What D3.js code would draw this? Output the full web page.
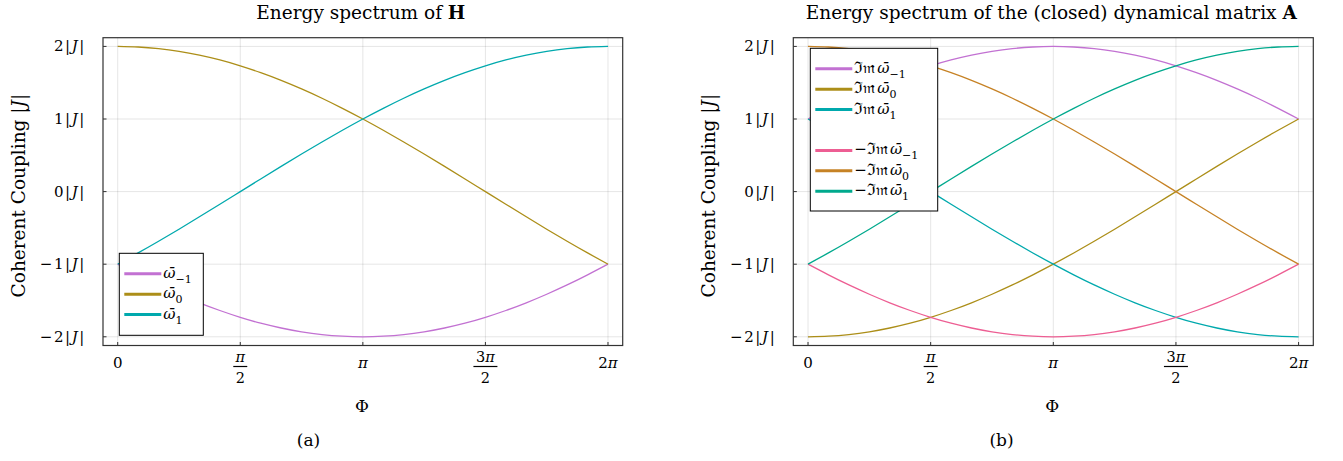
<!DOCTYPE html>
<html>
<head>
<meta charset="utf-8">
<script src="https://cdn.jsdelivr.net/npm/d3@7"></script>
<style>
  body { margin: 0; background: #fff; }
  svg { display: block; }
</style>
</head>
<body>
<svg id="chart" width="1343" height="461"></svg>
<script>
// Phase Φ in units of π
const phiPi = [0, 0.0833, 0.1667, 0.25, 0.3333, 0.4167, 0.5, 0.5833, 0.6667, 0.75, 0.8333, 0.9167,
               1, 1.0833, 1.1667, 1.25, 1.3333, 1.4167, 1.5, 1.5833, 1.6667, 1.75, 1.8333, 1.9167, 2];

// Eigenvalues of H, in units of |J|
const omegaM1 = [-1.000, -1.147, -1.286, -1.414, -1.532, -1.638, -1.732, -1.813, -1.879, -1.932, -1.970, -1.992,
                 -2.000, -1.992, -1.970, -1.932, -1.879, -1.813, -1.732, -1.638, -1.532, -1.414, -1.286, -1.147, -1.000];
const omega0 = [2.000, 1.992, 1.970, 1.932, 1.879, 1.813, 1.732, 1.638, 1.532, 1.414, 1.286, 1.147,
                1.000, 0.845, 0.684, 0.518, 0.347, 0.174, 0.000, -0.174, -0.347, -0.518, -0.684, -0.845, -1.000];
const omega1 = [-1.000, -0.845, -0.684, -0.518, -0.347, -0.174, 0.000, 0.174, 0.347, 0.518, 0.684, 0.845,
                1.000, 1.147, 1.286, 1.414, 1.532, 1.638, 1.732, 1.813, 1.879, 1.932, 1.970, 1.992, 2.000];

// Imaginary parts of the eigenvalues of the dynamical matrix A
const imOmegaM1 = [1.000, 1.147, 1.286, 1.414, 1.532, 1.638, 1.732, 1.813, 1.879, 1.932, 1.970, 1.992,
                   2.000, 1.992, 1.970, 1.932, 1.879, 1.813, 1.732, 1.638, 1.532, 1.414, 1.286, 1.147, 1.000];
const imOmega0 = [-2.000, -1.992, -1.970, -1.932, -1.879, -1.813, -1.732, -1.638, -1.532, -1.414, -1.286, -1.147,
                  -1.000, -0.845, -0.684, -0.518, -0.347, -0.174, 0.000, 0.174, 0.347, 0.518, 0.684, 0.845, 1.000];
const imOmega1 = [1.000, 0.845, 0.684, 0.518, 0.347, 0.174, 0.000, -0.174, -0.347, -0.518, -0.684, -0.845,
                  -1.000, -1.147, -1.286, -1.414, -1.532, -1.638, -1.732, -1.813, -1.879, -1.932, -1.970, -1.992, -2.000];
const negImOmegaM1 = [-1.000, -1.147, -1.286, -1.414, -1.532, -1.638, -1.732, -1.813, -1.879, -1.932, -1.970, -1.992,
                      -2.000, -1.992, -1.970, -1.932, -1.879, -1.813, -1.732, -1.638, -1.532, -1.414, -1.286, -1.147, -1.000];
const negImOmega0 = [2.000, 1.992, 1.970, 1.932, 1.879, 1.813, 1.732, 1.638, 1.532, 1.414, 1.286, 1.147,
                     1.000, 0.845, 0.684, 0.518, 0.347, 0.174, 0.000, -0.174, -0.347, -0.518, -0.684, -0.845, -1.000];
const negImOmega1 = [-1.000, -0.845, -0.684, -0.518, -0.347, -0.174, 0.000, 0.174, 0.347, 0.518, 0.684, 0.845,
                     1.000, 1.147, 1.286, 1.414, 1.532, 1.638, 1.732, 1.813, 1.879, 1.932, 1.970, 1.992, 2.000];

// Axis ticks
const xTicks = [0, 0.5, 1, 1.5, 2];
const xTickLabels = ["0", "π/2", "π", "3π/2", "2π"];
const yTicks = [-2, -1, 0, 1, 2];
const yTickLabels = ["−2", "−1", "0", "1", "2"];

// Series colours
const cPurple = "#C271D2", cGold = "#AC8E18", cTeal = "#00A9AD",
      cPink = "#ED5E93", cOrange = "#C68225", cGreen = "#00A98D";

const svg = d3.select("#chart").attr("font-family", "DejaVu Serif").attr("fill", "#000");

// writes a label into a text node, setting every π in italic
function mathText(sel, str) {
  str.split(/(π)/).filter(s => s.length).forEach(part => {
    const ts = sel.append("tspan").text(part);
    if (part === "π") ts.attr("font-style", "italic");
  });
}

function drawPanel(p) {
  const x = d3.scaleLinear().domain([-0.06, 2.06]).range([p.x0, p.x1]);
  const y = d3.scaleLinear().domain([-2.12, 2.12]).range([p.y1, p.y0]);
  const g = svg.append("g");

  // grid
  g.selectAll(".gx").data(xTicks).join("line")
    .attr("x1", d => x(d)).attr("x2", d => x(d))
    .attr("y1", p.y0).attr("y2", p.y1)
    .attr("stroke", "#000").attr("stroke-opacity", 0.1).attr("stroke-width", 1);
  g.selectAll(".gy").data(yTicks).join("line")
    .attr("y1", d => y(d)).attr("y2", d => y(d))
    .attr("x1", p.x0).attr("x2", p.x1)
    .attr("stroke", "#000").attr("stroke-opacity", 0.1).attr("stroke-width", 1);

  // series
  const line = d3.line().x(d => x(d[0])).y(d => y(d[1])).curve(d3.curveNatural);
  p.series.forEach(s => {
    g.append("path")
      .datum(phiPi.map((v, i) => [v, s.values[i]]))
      .attr("d", line)
      .attr("fill", "none").attr("stroke", s.color).attr("stroke-width", 1.3);
  });

  // frame
  g.append("rect").attr("x", p.x0).attr("y", p.y0)
    .attr("width", p.x1 - p.x0).attr("height", p.y1 - p.y0)
    .attr("fill", "none").attr("stroke", "#333").attr("stroke-width", 1.2);

  // inward ticks
  g.selectAll(".tx").data(xTicks).join("line")
    .attr("x1", d => x(d)).attr("x2", d => x(d))
    .attr("y1", p.y1).attr("y2", p.y1 - 3.5)
    .attr("stroke", "#333").attr("stroke-width", 1);
  g.selectAll(".ty").data(yTicks).join("line")
    .attr("y1", d => y(d)).attr("y2", d => y(d))
    .attr("x1", p.x0).attr("x2", p.x0 + 3.5)
    .attr("stroke", "#333").attr("stroke-width", 1);

  // y tick labels: n|J|
  yTicks.forEach((v, i) => {
    const t = g.append("text").attr("x", p.x0 - 17).attr("y", y(v) + 5)
      .attr("text-anchor", "end").attr("font-size", 15).attr("letter-spacing", 1.6);
    t.append("tspan").text(yTickLabels[i] + "|");
    t.append("tspan").attr("font-style", "italic").text("J");
    t.append("tspan").text("|");
  });

  // x tick labels (fractions stacked)
  xTicks.forEach((v, i) => {
    const lab = xTickLabels[i];
    const cx = x(v);
    if (lab.includes("/")) {
      const [num, den] = lab.split("/");
      mathText(g.append("text").attr("x", cx).attr("y", 362).attr("text-anchor", "middle")
        .attr("font-size", 14.5), num);
      const hw = num.length > 1 ? 12 : 7;
      g.append("line").attr("x1", cx - hw).attr("x2", cx + hw)
        .attr("y1", 366.5).attr("y2", 366.5).attr("stroke", "#000").attr("stroke-width", 1.2);
      g.append("text").attr("x", cx).attr("y", 383).attr("text-anchor", "middle")
        .attr("font-size", 14.5).text(den);
    } else {
      mathText(g.append("text").attr("x", cx).attr("y", 368).attr("text-anchor", "middle")
        .attr("font-size", 15), lab);
    }
  });

  // axis labels
  const cxPlot = (p.x0 + p.x1) / 2;
  g.append("text").attr("x", cxPlot - 1).attr("y", 412).attr("text-anchor", "middle")
    .attr("font-size", 17).text("Φ");
  const yl = g.append("text")
    .attr("transform", `translate(${p.x0 - 78},${(p.y0 + p.y1) / 2 + 4}) rotate(-90)`)
    .attr("text-anchor", "middle").attr("font-size", 18.5);
  yl.append("tspan").text("Coherent Coupling  |");
  yl.append("tspan").attr("font-style", "italic").text("J");
  yl.append("tspan").text("|");

  // title
  const tt = g.append("text").attr("x", cxPlot - 2).attr("y", 19)
    .attr("text-anchor", "middle").attr("font-size", 18.5);
  tt.append("tspan").text(p.title);
  tt.append("tspan").attr("font-weight", "bold").text(p.titleBold);

  // caption
  g.append("text").attr("x", p.captionX).attr("y", 446).attr("text-anchor", "middle")
    .attr("font-size", 17).text(p.caption);

  // legend
  const L = p.legend;
  g.append("rect").attr("x", L.x).attr("y", L.y).attr("width", L.w).attr("height", L.h)
    .attr("fill", "#fff").attr("stroke", "#000").attr("stroke-width", 1);
  let row = 0;
  p.series.forEach((s, i) => {
    if (L.gapAfter !== undefined && i === L.gapAfter + 1) row += 1;
    const ry = L.y + 20.5 + row * 20.4;
    g.append("line").attr("x1", L.x + 5).attr("x2", L.x + 42)
      .attr("y1", ry).attr("y2", ry).attr("stroke", s.color).attr("stroke-width", 3);
    const t = g.append("text").attr("x", L.x + 44).attr("y", ry + 4).attr("font-size", 15);
    if (s.sign) t.append("tspan").text(s.sign);
    if (s.im) t.append("tspan").attr("font-size", 16).text("ℑ𝔪");
    t.append("tspan").attr("font-style", "italic").attr("dx", s.im ? 2 : 0).text("ω\u0304");
    t.append("tspan").attr("dy", 5).attr("font-size", 11).text(s.sub);
    row += 1;
  });
}

drawPanel({
  x0: 103, x1: 622.7, y0: 37.7, y1: 345.5,
  title: "Energy spectrum of ", titleBold: "H",
  caption: "(a)", captionX: 308.5,
  series: [
    { values: omegaM1, color: cPurple, sub: "−1" },
    { values: omega0, color: cGold, sub: "0" },
    { values: omega1, color: cTeal, sub: "1" }
  ],
  legend: { x: 119.3, y: 253.3, w: 84, h: 82 }
});

drawPanel({
  x0: 793.3, x1: 1313.3, y0: 37.7, y1: 345.5,
  title: "Energy spectrum of the (closed) dynamical matrix ", titleBold: "A",
  caption: "(b)", captionX: 1001.5,
  series: [
    { values: imOmegaM1, color: cPurple, sub: "−1", im: true },
    { values: imOmega0, color: cGold, sub: "0", im: true },
    { values: imOmega1, color: cTeal, sub: "1", im: true },
    { values: negImOmegaM1, color: cPink, sub: "−1", im: true, sign: "−" },
    { values: negImOmega0, color: cOrange, sub: "0", im: true, sign: "−" },
    { values: negImOmega1, color: cGreen, sub: "1", im: true, sign: "−" }
  ],
  legend: { x: 810.3, y: 48.3, w: 127.4, h: 162.7, gapAfter: 2 }
});
</script>
</body>
</html>
